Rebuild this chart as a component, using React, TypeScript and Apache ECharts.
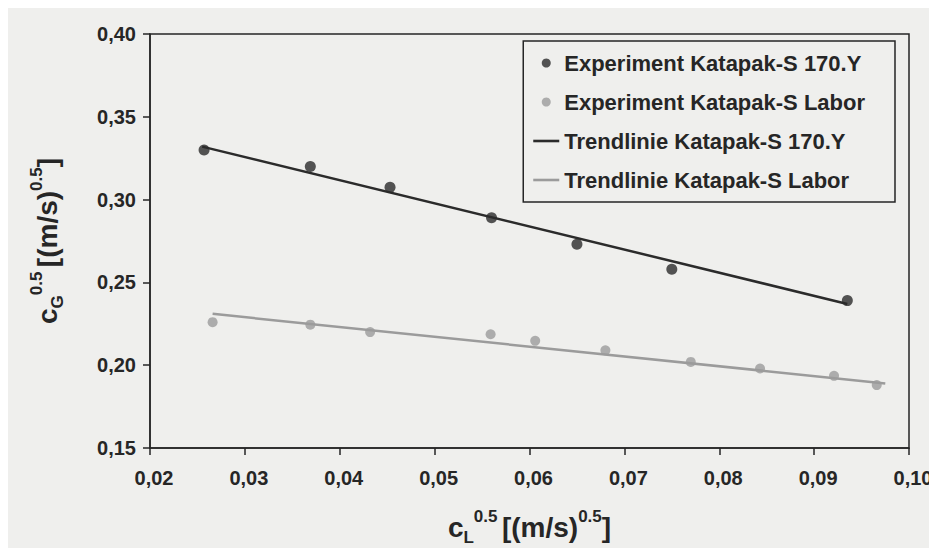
import React, { useEffect, useRef } from "react";
import * as echarts from "echarts";

const seriesNames = [
  "Experiment Katapak-S 170.Y",
  "Experiment Katapak-S Labor",
  "Trendlinie Katapak-S 170.Y",
  "Trendlinie Katapak-S Labor",
];

// Experiment Katapak-S 170.Y
const x170 = [0.0257, 0.0369, 0.0453, 0.0560, 0.0650, 0.0750, 0.0935];
const y170 = [0.330, 0.320, 0.3075, 0.289, 0.273, 0.258, 0.239];

// Experiment Katapak-S Labor
const xLabor = [0.0266, 0.0369, 0.0432, 0.0559, 0.0606, 0.0680, 0.0770, 0.0843, 0.0921, 0.0966];
const yLabor = [0.226, 0.2245, 0.220, 0.2187, 0.2147, 0.209, 0.202, 0.198, 0.1936, 0.188];

// Trend lines (end points)
const trend170X = [0.0255, 0.0935];
const trend170Y = [0.332, 0.237];
const trendLaborX = [0.0266, 0.0975];
const trendLaborY = [0.231, 0.189];

const xTicks = [0.02, 0.03, 0.04, 0.05, 0.06, 0.07, 0.08, 0.09, 0.1];
const yTicks = [0.15, 0.2, 0.25, 0.3, 0.35, 0.4];

const zip = (xs: number[], ys: number[]) => xs.map((x, i) => [x, ys[i]]);
const fmt = (v: number) => v.toFixed(2).replace(".", ",");

const FONT = "Liberation Sans, Arial, sans-serif";
const INK = "#262626";
const LINE_ICON = "path://M0,0H26V2.6H0Z";

const nameRich = {
  b: { fontFamily: FONT, fontWeight: "bold", fontSize: 28, color: INK, lineHeight: 38 },
  sub: { fontFamily: FONT, fontWeight: "bold", fontSize: 17, color: INK, verticalAlign: "bottom", lineHeight: 38 },
  sup: { fontFamily: FONT, fontWeight: "bold", fontSize: 17, color: INK, verticalAlign: "top", lineHeight: 38 },
  sp: { fontSize: 16, lineHeight: 38 },
};

export default function App() {
  const ref = useRef<HTMLDivElement>(null);
  useEffect(() => {
    if (!ref.current) return;
    const chart = echarts.init(ref.current, null, { renderer: "svg" });
    chart.setOption({
      animation: false,
      backgroundColor: "#efefed",
      textStyle: { fontFamily: FONT },
      grid: {
        left: 142,
        right: 36,
        top: 26,
        bottom: 108,
        show: true,
        borderColor: INK,
        borderWidth: 1.5,
        backgroundColor: "transparent",
      },
      legend: {
        data: [
          { name: seriesNames[0], icon: "circle" },
          { name: seriesNames[1], icon: "circle" },
          { name: seriesNames[2], icon: LINE_ICON },
          { name: seriesNames[3], icon: LINE_ICON },
        ],
        orient: "vertical",
        right: 50,
        top: 33,
        itemWidth: 26,
        itemHeight: 9,
        itemGap: 17,
        padding: [11, 30, 11, 10],
        borderColor: INK,
        borderWidth: 1.5,
        textStyle: {
          fontFamily: FONT,
          fontWeight: "bold",
          fontSize: 22,
          color: INK,
        },
      },
      xAxis: {
        type: "value",
        min: xTicks[0],
        max: xTicks[xTicks.length - 1],
        interval: 0.01,
        splitLine: { show: false },
        axisLine: { lineStyle: { color: INK, width: 1.5 } },
        axisTick: { show: true, inside: false, length: 7, lineStyle: { color: INK, width: 1.5 } },
        axisLabel: {
          formatter: fmt,
          fontFamily: FONT,
          fontWeight: "bold",
          fontSize: 20,
          color: INK,
          margin: 20,
          padding: [0, 0, 0, 8],
        },
        name: "{b|c}{sub|L}{sup|0.5}{sp| }{b|[(m/s)}{sup|0.5}{b|]}",
        nameLocation: "middle",
        nameGap: 60,
        nameTextStyle: { rich: nameRich },
      },
      yAxis: {
        type: "value",
        min: yTicks[0],
        max: yTicks[yTicks.length - 1],
        interval: 0.05,
        splitLine: { show: false },
        axisLine: { lineStyle: { color: INK, width: 1.5 } },
        axisTick: { show: true, inside: false, length: 7, lineStyle: { color: INK, width: 1.5 } },
        axisLabel: {
          formatter: fmt,
          fontFamily: FONT,
          fontWeight: "bold",
          fontSize: 20,
          color: INK,
          margin: 14,
        },
        name: "{b|c}{sub|G}{sup|0.5}{sp| }{b|[(m/s)}{sup|0.5}{b|]}",
        nameLocation: "middle",
        nameRotate: 90,
        nameGap: 84,
        nameTextStyle: { rich: nameRich },
      },
      series: [
        {
          name: seriesNames[0],
          type: "scatter",
          data: zip(x170, y170),
          symbol: "circle",
          symbolSize: 11,
          itemStyle: { color: "#2b2b2b" },
          z: 5,
        },
        {
          name: seriesNames[1],
          type: "scatter",
          data: zip(xLabor, yLabor),
          symbol: "circle",
          symbolSize: 10,
          itemStyle: { color: "#9b9b9b" },
          z: 5,
        },
        {
          name: seriesNames[2],
          type: "line",
          data: zip(trend170X, trend170Y),
          symbol: "none",
          lineStyle: { color: "#2b2b2b", width: 2.5 },
          itemStyle: { color: "#2b2b2b" },
        },
        {
          name: seriesNames[3],
          type: "line",
          data: zip(trendLaborX, trendLaborY),
          symbol: "none",
          lineStyle: { color: "#9b9b9b", width: 2.5 },
          itemStyle: { color: "#9b9b9b" },
        },
      ],
    });
    return () => chart.dispose();
  }, []);
  return <div ref={ref} style={{ width: 937, height: 548 }} />;
}
